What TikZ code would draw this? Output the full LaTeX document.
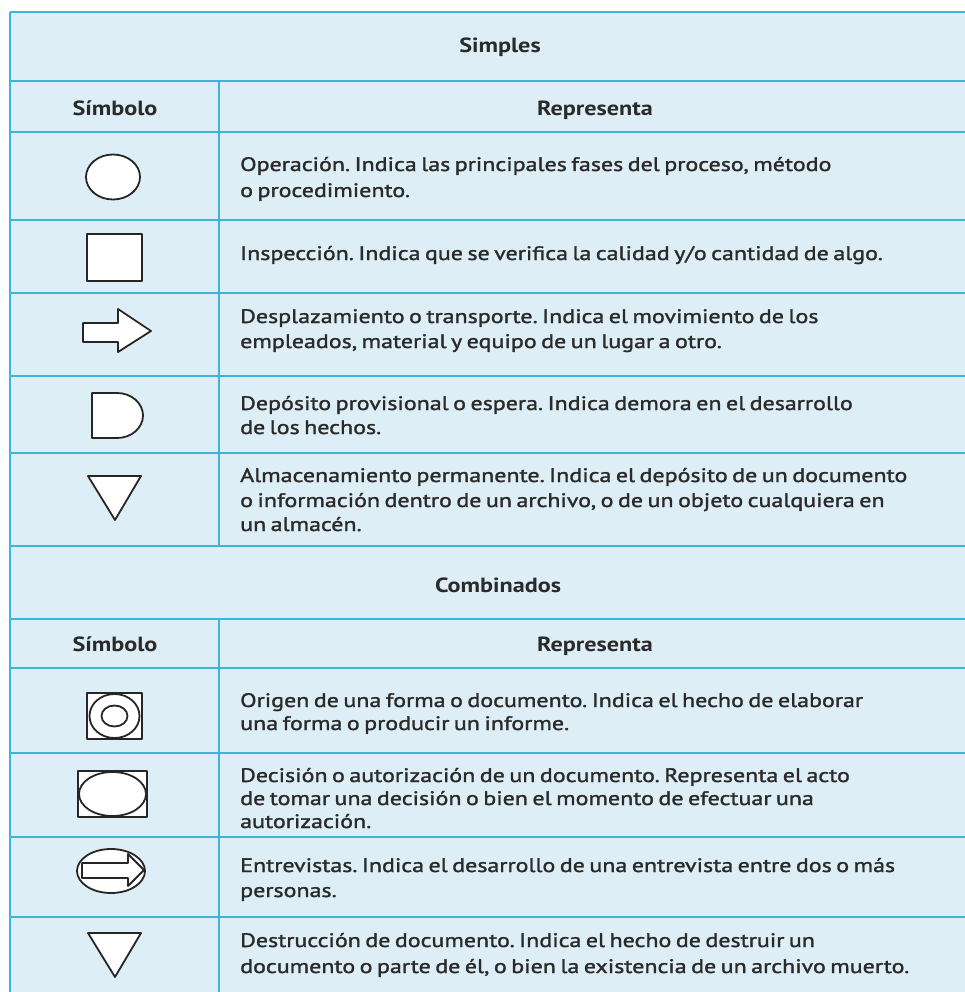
\documentclass[tikz,border=0pt]{standalone}
\usepackage{fontspec}
\setmainfont{PT Sans}
\newfontfamily\widefont[FakeStretch=1.23, FakeBold=1.5, WordSpace=0.7]{PT Sans}
\newfontfamily\wideboldfont[FakeStretch=1.18, BoldFont={PT Sans Bold}, UprightFont={PT Sans Bold}]{PT Sans}
\frenchspacing
\definecolor{cellbg}{HTML}{DDEEF6}
\definecolor{rule}{HTML}{3DB5D9}
\definecolor{ink}{HTML}{2A2A2A}
\definecolor{symink}{HTML}{262626}
\tikzset{
  body/.style={anchor=base west, inner sep=0pt, text=ink, font=\widefont\fontsize{19.5}{24}\selectfont\frenchspacing},
  head/.style={anchor=base, inner sep=0pt, text=ink, font=\wideboldfont\fontsize{20.5}{24}\selectfont},
  gridline/.style={draw=rule, line width=2.6pt},
  sym/.style={draw=symink, line width=1.8pt, fill=white, line join=round}
}
\begin{document}
\begin{tikzpicture}[x=1pt,y=-1pt]
\useasboundingbox (0,0) rectangle (965,992);
\fill[white] (0,0) rectangle (965,992);
\fill[cellbg] (10,12) rectangle (965,992);
% horizontal rules
\foreach \yy in {12,81,132,220,293,376,453,546,619,668,753,837,917}
  \draw[gridline] (10,\yy) -- (965,\yy);
% left border and column dividers
\draw[gridline] (10,12) -- (10,992);
\draw[gridline] (219,81) -- (219,546);
\draw[gridline] (219,619) -- (219,992);
% headers
\node[head] (hs) at (500,53) {Simples};
\node[head] (hsym1) at (115,116) {Símbolo};
\node[head] (hrep1) at (595,116) {Representa};
\node[head] (hc) at (498,592) {Combinados};
\node[head] (hsym2) at (115,651) {Símbolo};
\node[head] (hrep2) at (595,651) {Representa};
% simple symbols
\draw[sym] (113,177) ellipse [x radius=27, y radius=22.5];
\draw[sym] (87,234) rectangle (142,281);
\draw[sym] (83,323) -- (118,323) -- (118,309) -- (151,331) -- (118,352) -- (118,342) -- (83,342) -- cycle;
\draw[sym] (92,393) -- (117,393) arc[start angle=-90, end angle=90, x radius=26, y radius=22.5] -- (92,438) -- cycle;
\draw[sym] (88,476) -- (141,476) -- (115,520) -- cycle;
% combined symbols
\draw[sym] (87,693) rectangle (142,739);
\draw[sym] (114.5,716) ellipse [x radius=25, y radius=22];
\draw[sym] (114.5,716) ellipse [x radius=13, y radius=10.5];
\draw[sym] (78,771) rectangle (147,817);
\draw[sym] (112.5,794) ellipse [x radius=33.5, y radius=22];
\draw[sym] (111,871) ellipse [x radius=34, y radius=22];
\draw[sym] (82,863) -- (128,863) -- (128,854) -- (144,870) -- (128,886) -- (128,878) -- (82,878) -- cycle;
\draw[sym] (88,933) -- (141,933) -- (115,977) -- cycle;
% texts
\node[body] (t1a) at (240,171) {Operación. Indica las principales fases del proceso, método};
\node[body] (t1b) at (240,197) {o procedimiento.};
\node[body] (t2a) at (240,260) {Inspección. Indica que se verifica la calidad y/o cantidad de algo.};
\node[body] (t3a) at (240,323) {Desplazamiento o transporte. Indica el movimiento de los};
\node[body] (t3b) at (240,348) {empleados, material y equipo de un lugar a otro.};
\node[body] (t4a) at (240,410) {Depósito provisional o espera. Indica demora en el desarrollo};
\node[body] (t4b) at (240,434) {de los hechos.};
\node[body] (t5a) at (240,482) {Almacenamiento permanente. Indica el depósito de un documento};
\node[body] (t5b) at (240,507) {o información dentro de un archivo, o de un objeto cualquiera en};
\node[body] (t5c) at (240,531) {un almacén.};
\node[body] (t6a) at (240,707) {Origen de una forma o documento. Indica el hecho de elaborar};
\node[body] (t6b) at (240,730) {una forma o producir un informe.};
\node[body] (t7a) at (240,782) {Decisión o autorización de un documento. Representa el acto};
\node[body] (t7b) at (240,805) {de tomar una decisión o bien el momento de efectuar una};
\node[body] (t7c) at (240,828) {autorización.};
\node[body] (t8a) at (240,872) {Entrevistas. Indica el desarrollo de una entrevista entre dos o más};
\node[body] (t8b) at (240,897) {personas.};
\node[body] (t9a) at (240,947) {Destrucción de documento. Indica el hecho de destruir un};
\node[body] (t9b) at (240,973) {documento o parte de él, o bien la existencia de un archivo muerto.};
\end{tikzpicture}
\end{document}
